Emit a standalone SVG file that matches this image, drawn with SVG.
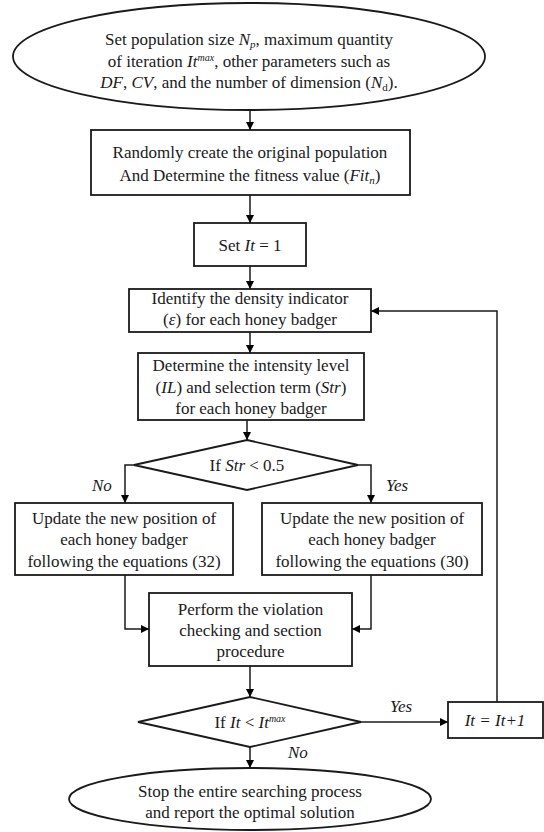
<svg xmlns="http://www.w3.org/2000/svg" width="544" height="832" viewBox="0 0 544 832">
<defs>
<marker id="ah" viewBox="0 0 10 10" refX="10" refY="5" markerWidth="8" markerHeight="8" markerUnits="userSpaceOnUse" orient="auto">
<path d="M0,0 L10,5 L0,10 z" fill="#000"/>
</marker>
</defs>
<style>
.s{fill:#fff;stroke:#1a1a1a;stroke-width:1.8}
.t{font-family:"Liberation Serif","Times New Roman",serif;font-size:17px;fill:#1a1a1a;text-anchor:middle}
.l{font-family:"Liberation Serif","Times New Roman",serif;font-size:17px;fill:#1a1a1a;font-style:italic}
.c{fill:none;stroke:#1a1a1a;stroke-width:1.5;marker-end:url(#ah)}
.i{font-style:italic}
</style>
<rect width="544" height="832" fill="#fff"/>
<g id="connectors">
<path class="c" d="M250,110 V130"/>
<path class="c" d="M250,195 V223"/>
<path class="c" d="M250,266 V289"/>
<path class="c" d="M250,332 V353"/>
<path class="c" d="M247,420 V440"/>
<path class="c" d="M134,465 H125 V503"/>
<path class="c" d="M358,465 H371 V503"/>
<path class="c" d="M125,575 V629 H149"/>
<path class="c" d="M371,575 V629 H352"/>
<path class="c" d="M250,666 V697"/>
<path class="c" d="M361,722 H448"/>
<path class="c" d="M497,702 V311 H371"/>
<path class="c" d="M250,747 V768"/>
<text class="l" x="92" y="491">No</text>
<text class="l" x="386" y="491">Yes</text>
<text class="l" x="390" y="712">Yes</text>
<text class="l" x="288" y="758">No</text>
</g>
<g id="start">
<ellipse class="s" cx="249" cy="56.5" rx="236" ry="53.5"/>
<text class="t" x="249" y="45">Set population size <tspan class="i">N</tspan><tspan class="i" font-size="11" dy="3">p</tspan><tspan dy="-3">, maximum quantity</tspan></text>
<text class="t" x="249" y="66.5">of iteration <tspan class="i">It</tspan><tspan class="i" font-size="10" dy="-6">max</tspan><tspan dy="6">, other parameters such as</tspan></text>
<text class="t" x="249" y="88"><tspan class="i">DF</tspan>, <tspan class="i">CV</tspan>, and the number of dimension (<tspan class="i">N</tspan><tspan font-size="11" dy="3">d</tspan><tspan dy="-3">).</tspan></text>
</g>
<g id="init">
<rect class="s" x="91" y="130" width="319" height="65"/>
<text class="t" x="250" y="158">Randomly create the original population</text>
<text class="t" x="250" y="181">And Determine the fitness value (<tspan class="i">Fit</tspan><tspan class="i" font-size="11" dy="3">n</tspan><tspan dy="-3">)</tspan></text>
</g>
<g id="setit">
<rect class="s" x="194" y="223" width="112" height="43"/>
<text class="t" x="250" y="250.5">Set <tspan class="i">It</tspan> = 1</text>
</g>
<g id="density">
<rect class="s" x="129" y="289" width="242" height="43"/>
<text class="t" x="250" y="304">Identify the density indicator</text>
<text class="t" x="250" y="325">(<tspan class="i">ε</tspan>) for each honey badger</text>
</g>
<g id="intensity">
<rect class="s" x="138" y="353" width="226" height="67"/>
<text class="t" x="251" y="371">Determine the intensity level</text>
<text class="t" x="251" y="392.5">(<tspan class="i">IL</tspan>) and selection term (<tspan class="i">Str</tspan>)</text>
<text class="t" x="251" y="414">for each honey badger</text>
</g>
<g id="decision1">
<polygon class="s" points="247,440 358,465 247,490 134,465"/>
<text class="t" x="247" y="471">If <tspan class="i">Str</tspan> &lt; 0.5</text>
</g>
<g id="update32">
<rect class="s" x="15" y="503" width="218" height="72"/>
<text class="t" x="124" y="523.5">Update the new position of</text>
<text class="t" x="124" y="545">each honey badger</text>
<text class="t" x="124" y="566.5">following the equations (32)</text>
</g>
<g id="update30">
<rect class="s" x="262" y="503" width="220" height="72"/>
<text class="t" x="372" y="523.5">Update the new position of</text>
<text class="t" x="372" y="545">each honey badger</text>
<text class="t" x="372" y="566.5">following the equations (30)</text>
</g>
<g id="violation">
<rect class="s" x="149" y="593" width="203" height="73"/>
<text class="t" x="250.5" y="615">Perform the violation</text>
<text class="t" x="250.5" y="636">checking and section</text>
<text class="t" x="250.5" y="657">procedure</text>
</g>
<g id="decision2">
<polygon class="s" points="250,697 361,722 250,747 138,722"/>
<text class="t" x="250" y="728">If <tspan class="i">It</tspan> &lt; <tspan class="i">It</tspan><tspan class="i" font-size="10" dy="-6">max</tspan></text>
</g>
<g id="increment">
<rect class="s" x="448" y="702" width="95" height="36"/>
<text class="t i" x="495" y="726">It = It+1</text>
</g>
<g id="stop">
<ellipse class="s" cx="250" cy="799" rx="181" ry="31"/>
<text class="t" x="250" y="797">Stop the entire searching process</text>
<text class="t" x="250" y="818">and report the optimal solution</text>
</g>
</svg>
